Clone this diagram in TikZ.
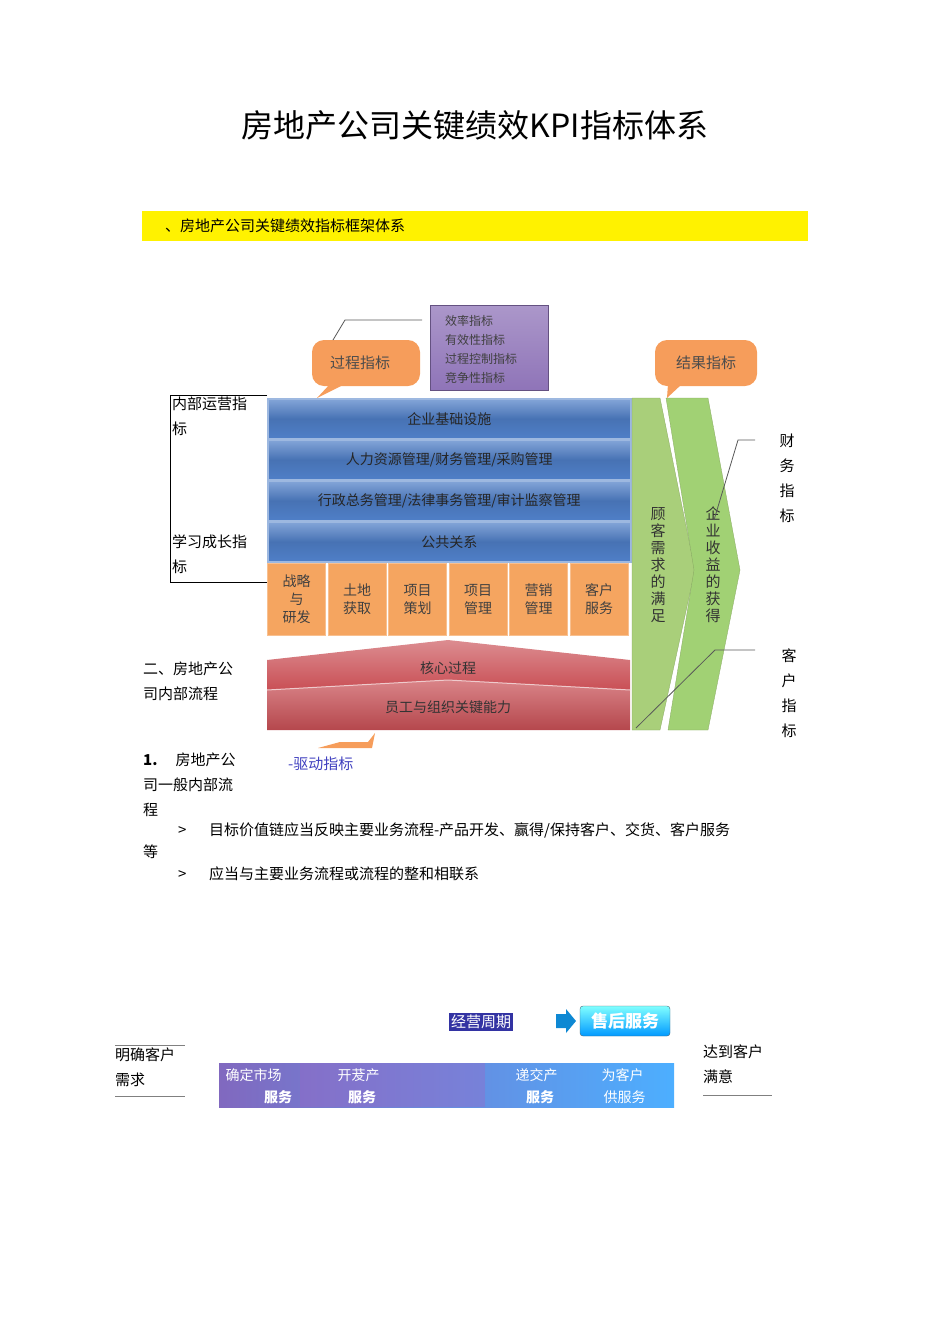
\documentclass[tikz,border=0pt]{standalone}
\usepackage{fontspec}
\setmainfont{Liberation Serif}
\newfontfamily\cjk{Noto Sans CJK SC}
\definecolor{bluebar}{HTML}{4F7FC8}
\definecolor{blueedge}{HTML}{9DB8E0}
\definecolor{orangebox}{HTML}{F5A560}
\definecolor{redbar}{HTML}{C94F55}
\definecolor{greenar}{HTML}{A9CF7A}
\definecolor{purplebox}{HTML}{8F74B8}
\tikzset{
 bluebox/.style={draw=blueedge,line width=1.5pt,top color=bluebar!70!white,bottom color=bluebar,middle color=bluebar!90!black,font=\cjk\fontsize{14}{14}\selectfont,text=black!85},
 obox/.style={draw=orangebox!70!white,line width=1pt,fill=orangebox,font=\cjk\fontsize{14}{18}\selectfont,align=center,text=black!75},
 txt/.style={font=\cjk\fontsize{15}{25}\selectfont,anchor=north west,inner sep=0pt,align=left},
 thinline/.style={draw=gray!70!black,line width=0.8pt}
}
\begin{document}
\begin{tikzpicture}[x=1pt,y=-1pt]
\useasboundingbox (0,0) rectangle (950,1344);
\node (title) at (475,125) {\cjk\fontsize{32}{32}\selectfont 房地产公司关键绩效KPI指标体系};
\fill[yellow] (142,211) rectangle (808,241);
\node[txt,anchor=west] (sub) at (165,226) {、房地产公司关键绩效指标框架体系};
% left bracket
\draw[black,line width=0.6pt] (267,395) -- (170,395) -- (170,582) -- (267,582);
\node[txt] (nb) at (172,397) {内部运营指\\标};
\node[txt] (xx) at (172,535) {学习成长指\\标};
% blue bars
\node[bluebox,minimum width=363pt,minimum height=40pt,anchor=north west,inner sep=0pt] (b1) at (267,398) {企业基础设施};
\node[bluebox,minimum width=363pt,minimum height=40pt,anchor=north west,inner sep=0pt] (b2) at (267,439) {人力资源管理/财务管理/采购管理};
\node[bluebox,minimum width=363pt,minimum height=40pt,anchor=north west,inner sep=0pt] (b3) at (267,480) {行政总务管理/法律事务管理/审计监察管理};
\node[bluebox,minimum width=363pt,minimum height=40pt,anchor=north west,inner sep=0pt] (b4) at (267,521) {公共关系};
% orange boxes
\foreach \i/\t in {0/{战略\\与\\研发},1/{土地\\获取},2/{项目\\策划},3/{项目\\管理},4/{营销\\管理},5/{客户\\服务}}{
 \node[obox,minimum width=58pt,minimum height=72pt,anchor=north west,inner sep=0pt] (o\i) at ({267+\i*60.5},563) {\t};
}
% red bars
\shade[top color=redbar!65!white,bottom color=redbar] (267,660) -- (448,640) -- (630,660) -- (630,690) -- (267,690) -- cycle;
\shade[top color=redbar!70!white,bottom color=redbar!90!black] (267,690) -- (448,680) -- (630,690) -- (630,730) -- (267,730) -- cycle;
\draw[white!70!redbar,line width=1pt] (267,690) -- (448,680) -- (630,690);
\node[font=\cjk\fontsize{14}{14}\selectfont,text=black!80] (hx) at (448,668) {核心过程};
\node[font=\cjk\fontsize{14}{14}\selectfont,text=black!80] (yg) at (448,707) {员工与组织关键能力};
% green arrows
\fill[greenar,draw=greenar!80!black,line width=0.3pt] (632,398) -- (660,398) -- (695,570) -- (660,730) -- (632,730) -- (632,398);
\fill[greenar!95!green,draw=greenar!80!black,line width=0.3pt] (666,398) -- (708,398) -- (740,570) -- (708,730) -- (668,730) -- (694,570) -- cycle;
\node[font=\cjk\fontsize{15}{17}\selectfont,align=center,text=black!80] (gk) at (658,565) {顾\\客\\需\\求\\的\\满\\足};
\node[font=\cjk\fontsize{15}{17}\selectfont,align=center,text=black!80] (qy) at (713,565) {企\\业\\收\\益\\的\\获\\得};
% callouts
\fill[orangebox!95!red,rounded corners=12pt] (312,340) rectangle (420,386);
\fill[orangebox!95!red] (330,384) -- (345,384) -- (317,398) -- cycle;
\node[font=\cjk\fontsize{15}{15}\selectfont,text=black!70] (gc) at (360,363) {过程指标};
\fill[orangebox!95!red,rounded corners=12pt] (655,340) rectangle (757,386);
\fill[orangebox!95!red] (668,384) -- (682,384) -- (667,398) -- cycle;
\node[font=\cjk\fontsize{15}{15}\selectfont,text=black!70] (jg) at (706,363) {结果指标};
\draw[thinline] (333,340) -- (345,320) -- (422,320);
% purple box
\node[draw=purplebox!70!black,line width=1pt,top color=purplebox!75!white,bottom color=purplebox,anchor=north west,minimum width=118pt,minimum height=85pt,inner sep=0pt] (pb) at (430,305) {};
\node[font=\cjk\fontsize{12}{19}\selectfont,align=left,anchor=north west,inner sep=0pt,text=black!75] (pt) at (445,315) {效率指标\\有效性指标\\过程控制指标\\竞争性指标};
% right lines
\draw[thinline] (714,520) -- (738,440) -- (755,440);
\draw[thinline] (636,728) -- (715,650) -- (755,650);
\node[font=\cjk\fontsize{15}{25}\selectfont,align=center] (cw) at (787,478) {财\\务\\指\\标};
\node[font=\cjk\fontsize{15}{25}\selectfont,align=center] (kh) at (789,693) {客\\户\\指\\标};
% bottom drive callout fragment
\fill[orangebox!95!red] (318,748) -- (340,742) -- (368,742) -- (375,733) -- (372,748) -- cycle;
\node[txt] (ee) at (143,662) {二、房地产公\\司内部流程};
\node[txt] (one) at (143,753) {\textbf{1.}\hspace{1.2em}房地产公\\司一般内部流\\程};
\node[txt,text=blue!50!gray] (qd) at (288,757) {-驱动指标};
\node[txt] (l1) at (178,823) {>\hspace{1.5em}目标价值链应当反映主要业务流程-产品开发、赢得/保持客户、交货、客户服务};
\node[txt] (l2) at (143,845) {等};
\node[txt] (l3) at (178,867) {>\hspace{1.5em}应当与主要业务流程或流程的整和相联系};
% bottom diagram
\node[fill=blue!55!black!80,text=white,font=\cjk\fontsize{15}{15}\selectfont,inner sep=2pt] (jy) at (481,1022) {经营周期};
\fill[cyan!70!blue] (556,1014) -- (566,1014) -- (566,1009) -- (576,1021) -- (566,1033) -- (566,1028) -- (556,1028) -- cycle;
\node[draw=cyan!40!black,rounded corners=3pt,top color=cyan!50!white,bottom color=cyan!60!blue,text=white,font=\cjk\bfseries\fontsize{17}{17}\selectfont,minimum width=90pt,minimum height=30pt] (sh) at (625,1021) {售后服务};
\draw[gray] (115,1045) -- (185,1045);
\draw[gray] (115,1096) -- (185,1096);
\node[txt] (mq) at (115,1048) {明确客户\\需求};
\shade[left color=purplebox!90!blue,right color=cyan!55!blue!70] (219,1063) rectangle (674,1107);
\fill[blue!50!purple!60,opacity=0.35] (300,1063) rectangle (485,1107);
\node[font=\cjk\fontsize{14}{14}\selectfont,text=white,anchor=west] (s1) at (222,1075) {确定市场};
\node[font=\cjk\bfseries\fontsize{14}{14}\selectfont,text=white] (s2) at (278,1097) {服务};
\node[font=\cjk\fontsize{14}{14}\selectfont,text=white,anchor=west] (s3) at (334,1075) {开茇产};
\node[font=\cjk\bfseries\fontsize{14}{14}\selectfont,text=white] (s4) at (362,1097) {服务};
\node[font=\cjk\fontsize{14}{14}\selectfont,text=white,anchor=west] (s5) at (512,1075) {递交产};
\node[font=\cjk\bfseries\fontsize{14}{14}\selectfont,text=white] (s6) at (540,1097) {服务};
\node[font=\cjk\fontsize{14}{14}\selectfont,text=white,anchor=west] (s7) at (598,1075) {为客户};
\node[font=\cjk\fontsize{14}{14}\selectfont,text=white,anchor=west] (s8) at (600,1097) {供服务};
\node[txt] (dd) at (703,1045) {达到客户\\满意};
\draw[gray] (703,1095) -- (772,1095);
\end{tikzpicture}
\end{document}
